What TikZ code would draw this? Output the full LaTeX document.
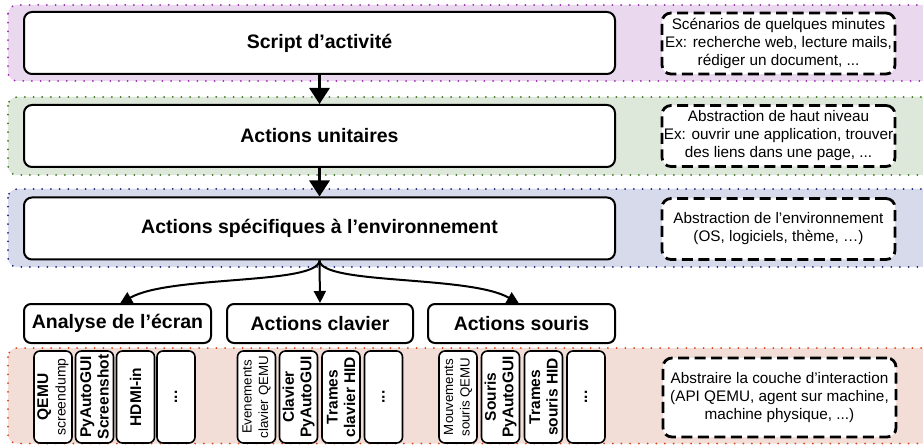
\documentclass[tikz,border=0pt]{standalone}
\usepackage{fontspec}
\setmainfont{Liberation Sans}
\usetikzlibrary{arrows.meta}
\definecolor{pfill}{RGB}{234,216,239}
\definecolor{pdot}{RGB}{156,39,176}
\definecolor{gfill}{RGB}{222,232,218}
\definecolor{gdot}{RGB}{56,118,29}
\definecolor{bfill}{RGB}{214,218,235}
\definecolor{bdot}{RGB}{26,35,126}
\definecolor{rfill}{RGB}{243,222,215}
\definecolor{rdot}{RGB}{216,67,21}
\tikzset{
  band/.style={line width=2pt, dash pattern=on 0pt off 8.7pt, line cap=round, rounded corners=9pt},
  mainbox/.style={draw, line width=2pt, fill=white, rounded corners=8pt, minimum width=591pt, minimum height=62pt, inner sep=0pt,
    font=\fontsize{19.5}{23}\selectfont\bfseries},
  notebox/.style={draw, line width=2.8pt, dash pattern=on 11pt off 5.5pt, fill=white, rounded corners=9pt, minimum width=233pt, minimum height=61pt, inner sep=0pt, align=center,
    font=\fontsize{15.3}{18}\selectfont},
  headbox/.style={draw, line width=2pt, fill=white, rounded corners=7pt, minimum width=187pt, minimum height=39pt, inner sep=0pt,
    font=\fontsize{19.5}{23}\selectfont\bfseries},
  smallbox/.style={draw, line width=1.6pt, fill=white, rounded corners=6pt, rotate=90, minimum width=92pt, minimum height=38pt, inner sep=0pt, align=center,
    font=\fontsize{15.5}{17.5}\selectfont},
  bigarrow/.style={line width=3pt, -{Triangle[width=20pt,length=16pt]}},
  curvarrow/.style={line width=2pt, -{Triangle[width=12pt,length=12pt]}},
}
\begin{document}
\begin{tikzpicture}[x=1pt,y=-1pt]
\useasboundingbox (0,0) rectangle (923,446);
% bands
\draw[band, draw=pdot, fill=pfill] (8,5) rectangle (945,81);
\draw[band, draw=gdot, fill=gfill] (8,97) rectangle (945,175);
\draw[band, draw=bdot, fill=bfill] (8,189) rectangle (945,267);
\draw[band, draw=rdot, fill=rfill] (8,348) rectangle (945,443.5);
% main boxes
\node[mainbox] (b1) at (319.5,43) {Script d’activité};
\node[mainbox] (b2) at (319.5,136) {Actions unitaires};
\node[mainbox] (b3) at (319.5,228.5) {Actions spécifiques à l’environnement};
% notes
\node[notebox] (n1) at (778.5,43.5) {Scénarios de quelques minutes\\Ex: recherche web, lecture mails,\\rédiger un document, ...};
\node[notebox] (n2) at (778.5,136) {Abstraction de haut niveau\\Ex: ouvrir une application, trouver\\des liens dans une page, ...};
\node[notebox] (n3) at (778.5,229) {Abstraction de l’environnement\\(OS, logiciels, thème, …)};
\node[notebox, minimum height=79pt] (n4) at (779.5,397.5) {Abstraire la couche d’interaction\\(API QEMU, agent sur machine,\\machine physique, ...)};
% heads
\node[headbox] (ha) at (117.5,323.5) {Analyse de l’écran};
\node[headbox, minimum width=186pt] (hc) at (320,323.5) {Actions clavier};
\node[headbox] (hs) at (521.5,323.5) {Actions souris};
% arrows
\draw[bigarrow] (b1.south) -- (b2.north);
\draw[bigarrow] (b2.south) -- (b3.north);
\coordinate (ta) at (120,303.5);
\coordinate (ts) at (519,303.5);
\draw[curvarrow] (b3.south) .. controls (318,285) and (170,275) .. (ta);
\draw[curvarrow] (b3.south) -- (hc.north);
\draw[curvarrow] (b3.south) .. controls (321,285) and (469,275) .. (ts);
% small boxes
\node[smallbox] (a1) at (53,397) {\textbf{QEMU}\\\fontsize{14}{16}\selectfont screendump};
\node[smallbox] (a2) at (94.5,397) {\bfseries PyAutoGUI\\\bfseries Screenshot};
\node[smallbox] (a3) at (135.5,397) {\bfseries HDMI-in};
\node[smallbox] (a4) at (176,397) {\bfseries ...};
\node[smallbox, font=\fontsize{13.3}{16.5}\selectfont] (c1) at (256.5,397) {Evenements\\clavier QEMU};
\node[smallbox] (c2) at (298.5,397) {\bfseries Clavier\\\bfseries PyAutoGUI};
\node[smallbox] (c3) at (341,397) {\bfseries Trames\\\bfseries clavier HID};
\node[smallbox] (c4) at (383.5,397) {\bfseries ...};
\node[smallbox, font=\fontsize{13.3}{16.5}\selectfont] (s1) at (458,397) {Mouvements\\souris QEMU};
\node[smallbox] (s2) at (500.5,397) {\bfseries Souris\\\bfseries PyAutoGUI};
\node[smallbox] (s3) at (543.5,397) {\bfseries Trames\\\bfseries souris HID};
\node[smallbox] (s4) at (586,397) {\bfseries ...};
\end{tikzpicture}
\end{document}
